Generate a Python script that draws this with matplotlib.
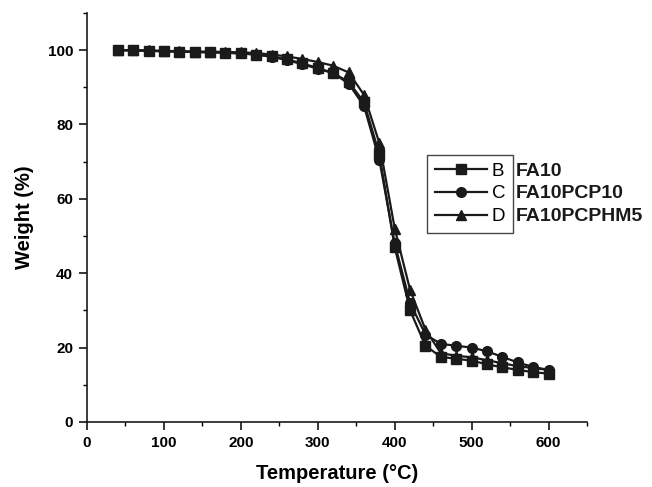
import matplotlib
matplotlib.use("Agg")
import matplotlib.pyplot as plt
from matplotlib.ticker import MultipleLocator

plt.rcParams['font.family'] = ['Liberation Sans', 'DejaVu Sans']

temperature = [40, 60, 80, 100, 120, 140, 160, 180, 200, 220, 240, 260, 280, 300,
               320, 340, 360, 380, 400, 420, 440, 460, 480, 500, 520, 540, 560, 580, 600]
fa10 = [100, 99.9, 99.8, 99.7, 99.6, 99.5, 99.4, 99.3, 99.1, 98.8, 98.3, 97.5, 96.4, 95.2,
        93.8, 91.5, 86.0, 72.0, 47.0, 30.0, 20.5, 17.5, 17.0, 16.5, 15.5, 14.7, 14.0, 13.4, 13.0]
fa10pcp10 = [100, 99.9, 99.8, 99.7, 99.6, 99.5, 99.4, 99.3, 99.1, 98.8, 98.2, 97.3, 96.2, 95.0,
             93.8, 91.0, 85.0, 70.5, 48.0, 32.0, 23.5, 21.0, 20.5, 20.0, 19.0, 17.5, 16.0, 14.8, 14.0]
fa10pcphm5 = [100, 100, 99.9, 99.8, 99.7, 99.6, 99.6, 99.5, 99.4, 99.2, 98.8, 98.3, 97.6, 96.8,
              95.8, 94.0, 88.0, 75.0, 52.0, 35.5, 24.8, 18.5, 17.8, 17.4, 16.6, 15.8, 15.0, 14.5, 14.0]

legend_letters = ['B', 'C', 'D']
sample_names = ['FA10', 'FA10PCP10', 'FA10PCPHM5']
markers = ['s', 'o', '^']

fig = plt.figure(figsize=(6.52, 4.87), dpi=100)
ax = fig.add_axes([0.1334, 0.1335, 0.767, 0.84])

series = [fa10, fa10pcp10, fa10pcphm5]
handles = []
for vals, m, lab in zip(series, markers, legend_letters):
    h, = ax.plot(temperature, vals, color='#1a1a1a', marker=m, markersize=7,
                 linewidth=1.6, label=lab)
    handles.append(h)

ax.set_xlim(0, 650)
ax.set_ylim(0, 110)
ax.xaxis.set_major_locator(MultipleLocator(100))
ax.xaxis.set_minor_locator(MultipleLocator(50))
ax.yaxis.set_major_locator(MultipleLocator(20))
ax.yaxis.set_minor_locator(MultipleLocator(10))
ax.spines['top'].set_visible(False)
ax.spines['right'].set_visible(False)
for s in ['left', 'bottom']:
    ax.spines[s].set_linewidth(1.2)
    ax.spines[s].set_color('#1a1a1a')
ax.tick_params(which='major', direction='out', length=6, width=1.1, labelsize=11, pad=4)
ax.tick_params(which='minor', direction='out', length=3, width=1.0)
for t in ax.get_xticklabels() + ax.get_yticklabels():
    t.set_fontweight('bold')

ax.set_xlabel('Temperature (°C)', fontsize=14.5, fontweight='bold', labelpad=10)
ax.set_ylabel('Weight (%)', fontsize=14.5, fontweight='bold', labelpad=10)

leg = ax.legend(handles=handles, labels=legend_letters, loc='upper left',
                bbox_to_anchor=(427 / 652, 1 - 155 / 487), bbox_transform=fig.transFigure,
                fontsize=13.5, frameon=True, fancybox=False, edgecolor='#1a1a1a',
                handlelength=2.8, handletextpad=0.25, labelspacing=0.3,
                borderpad=0.4, borderaxespad=0)
leg.get_frame().set_linewidth(1.0)

fig.canvas.draw()
renderer = fig.canvas.get_renderer()
frame_bb = leg.get_frame().get_window_extent(renderer)
for txt, name in zip(leg.get_texts(), sample_names):
    bb = txt.get_window_extent(renderer)
    yc = (bb.y0 + bb.y1) / 2
    fig.text((frame_bb.x1 + 3) / fig.bbox.width, yc / fig.bbox.height, name,
             fontsize=14, fontweight='bold', va='center', ha='left', color='#1a1a1a')

fig.savefig('out.png', dpi=100)
